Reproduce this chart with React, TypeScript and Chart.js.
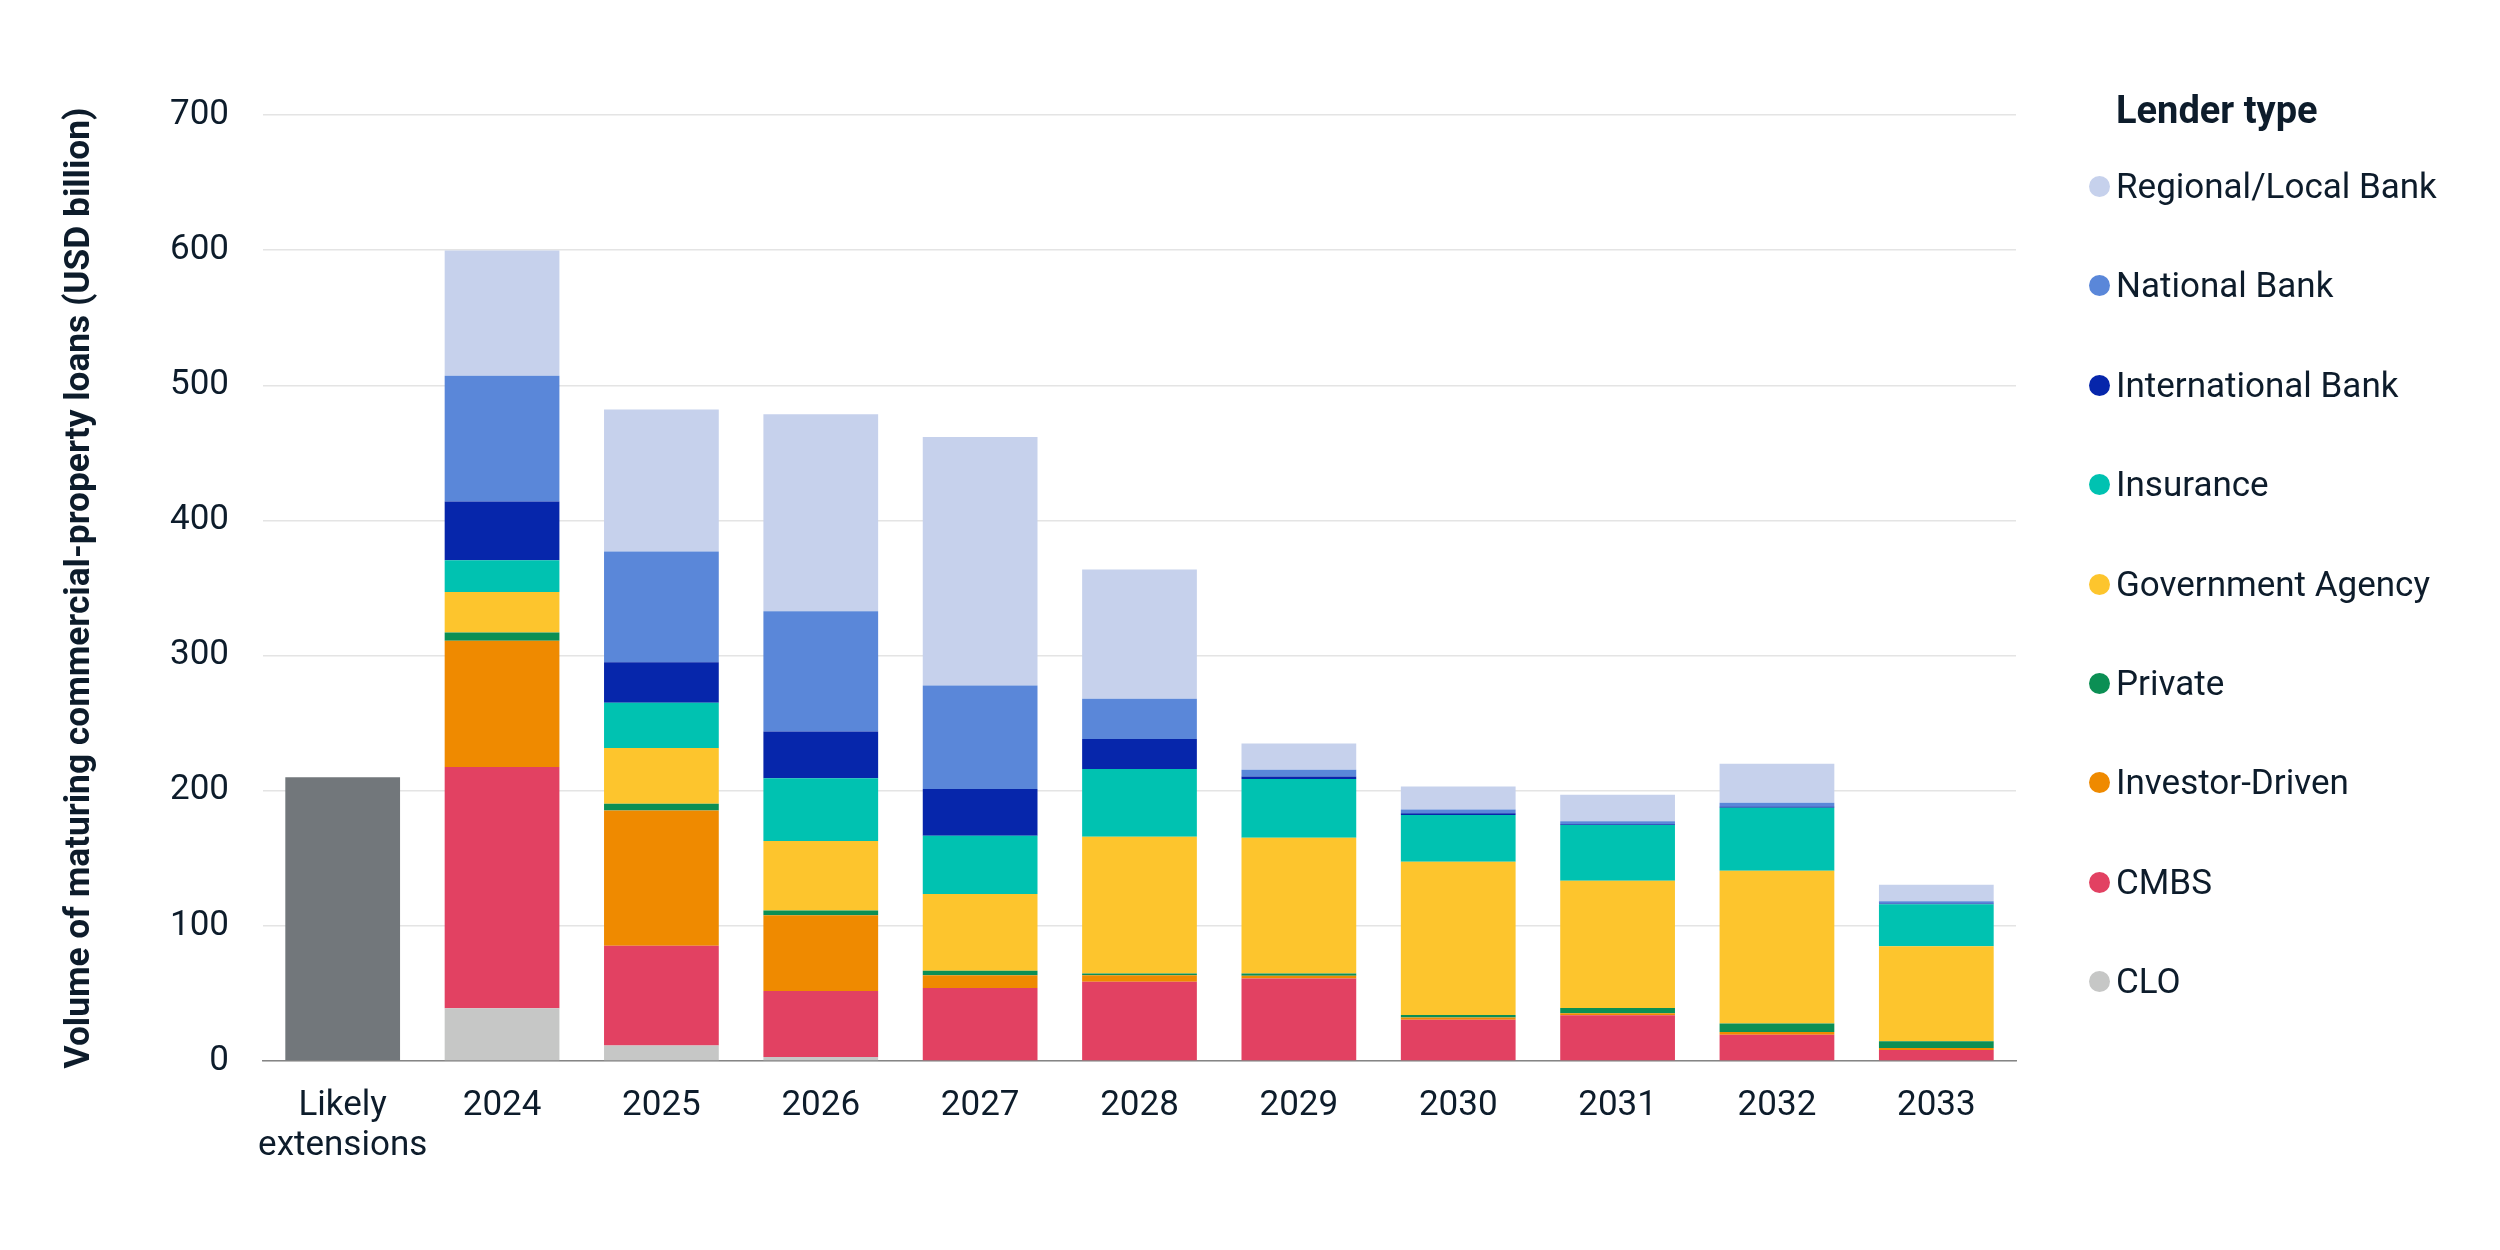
import React, { useRef, useEffect } from 'react';
import { Chart, registerables } from 'chart.js';

Chart.register(...registerables);

// categories on the x axis
const categories: (string | string[])[] = [
  ['Likely', 'extensions'], '2024', '2025', '2026', '2027', '2028', '2029', '2030', '2031', '2032', '2033',
];

// USD billion
const likelyExtensions = [210, null, null, null, null, null, null, null, null, null, null];
const clo = [null, 39, 11.4, 3, 0, 0, 0, 0, 0, 0, 0];
const cmbs = [null, 178.5, 73.8, 48.8, 54, 58.7, 61, 30.6, 33.8, 19.5, 8.1];
const investorDriven = [null, 93.5, 100.2, 56, 9.5, 4.8, 2, 1.5, 1.5, 2, 1.5];
const privateLenders = [null, 6, 5, 3.5, 3.2, 1.2, 1.7, 2, 4, 6.2, 5];
const governmentAgency = [null, 30, 41.2, 51.5, 56.8, 101.3, 100.5, 113.4, 94, 113, 70.4];
const insurance = [null, 23.6, 33.4, 46.5, 43.2, 50, 43.4, 34.6, 41.3, 46.7, 31];
const internationalBank = [null, 43.4, 30, 34.5, 34.5, 22.3, 2, 1.2, 0.5, 1, 0.5];
const nationalBank = [null, 93, 82, 89, 76.6, 29.7, 5, 2.8, 2.3, 2.7, 1.8];
const regionalBank = [null, 92.7, 105, 145.7, 184, 95.7, 19.4, 17, 19.7, 28.9, 12.1];

const yTicks = [0, 100, 200, 300, 400, 500, 600, 700];

// stacked bottom to top
const lenderNames = [
  'CLO', 'CMBS', 'Investor-Driven', 'Private', 'Government Agency',
  'Insurance', 'International Bank', 'National Bank', 'Regional/Local Bank',
];
const lenderValues = [
  clo, cmbs, investorDriven, privateLenders, governmentAgency,
  insurance, internationalBank, nationalBank, regionalBank,
];
const lenderColors = [
  '#c6c7c6', '#e24162', '#ef8a00', '#0b8f54', '#fdc52d',
  '#00c2b1', '#0626ab', '#5a87d9', '#c6d1ec',
];
const extensionColor = '#72777b';

const textColor = '#0d1c2b';

const App: React.FC = () => {
  const canvasRef = useRef<HTMLCanvasElement | null>(null);
  const chartRef = useRef<Chart | null>(null);

  useEffect(() => {
    if (!canvasRef.current) return;
    if (chartRef.current) {
      chartRef.current.destroy();
      chartRef.current = null;
    }

    const datasets: any[] = [
      {
        label: 'Likely extensions',
        data: likelyExtensions,
        backgroundColor: extensionColor,
        borderWidth: 0,
      },
      ...lenderNames.map((name, i) => ({
        label: name,
        data: lenderValues[i],
        backgroundColor: lenderColors[i],
        borderWidth: 0,
      })),
    ];

    const chart = new Chart(canvasRef.current, {
      type: 'bar',
      data: { labels: categories, datasets },
      options: {
        animation: false,
        responsive: true,
        maintainAspectRatio: false,
        layout: { padding: { left: 0, right: 476, top: 107, bottom: 51 } },
        plugins: {
          legend: { display: false },
          tooltip: { enabled: false },
        },
        scales: {
          x: {
            stacked: true,
            grid: { display: false, drawTicks: false },
            border: { display: true, color: '#858585', width: 1.5 },
            ticks: {
              color: textColor,
              padding: 25,
              autoSkip: false,
              maxRotation: 0,
              minRotation: 0,
              font: { family: 'Roboto', size: 35, lineHeight: 40 / 35 },
            },
          },
          y: {
            stacked: true,
            min: 0,
            max: 700,
            afterBuildTicks: (scale: any) => {
              scale.ticks = yTicks.map((v) => ({ value: v }));
            },
            afterFit: (scale: any) => {
              scale.width = 255;
            },
            grid: { color: '#e4e4e4', lineWidth: 1.5, drawTicks: false },
            border: { display: false },
            ticks: {
              color: textColor,
              padding: 34,
              font: { family: 'Roboto', size: 35 },
            },
            title: {
              display: true,
              text: 'Volume of maturing commercial-property loans (USD billion)',
              color: textColor,
              padding: { top: 51, bottom: 0 },
              font: { family: 'Roboto', size: 35.3, weight: 'bold', lineHeight: 1.2 },
            },
          },
        },
      },
    });

    chartRef.current = chart;

    return () => {
      if (chartRef.current !== null) {
        chartRef.current.destroy();
        chartRef.current = null;
      }
    };
  }, []);

  // legend lists lenders top to bottom
  const legendOrder = lenderNames.map((_, i) => i).reverse();

  return (
    <div style={{ position: 'relative', width: 2484, height: 1234, fontFamily: 'Roboto', color: textColor }}>
      <canvas ref={canvasRef}></canvas>
      <div
        style={{
          position: 'absolute', left: 2108, top: 83, fontSize: 38, lineHeight: '38px',
          fontWeight: 'bold', whiteSpace: 'nowrap',
        }}
      >
        Lender type
      </div>
      {legendOrder.map((idx, row) => (
        <div
          key={lenderNames[idx]}
          style={{
            position: 'absolute', left: 2081, top: 161 + row * 99.4, height: 35,
            display: 'flex', alignItems: 'center', whiteSpace: 'nowrap',
          }}
        >
          <span
            style={{
              display: 'inline-block', width: 21, height: 21, borderRadius: '50%',
              background: lenderColors[idx],
            }}
          ></span>
          <span style={{ marginLeft: 6, fontSize: 35, lineHeight: '35px' }}>{lenderNames[idx]}</span>
        </div>
      ))}
    </div>
  );
};

export default App;
